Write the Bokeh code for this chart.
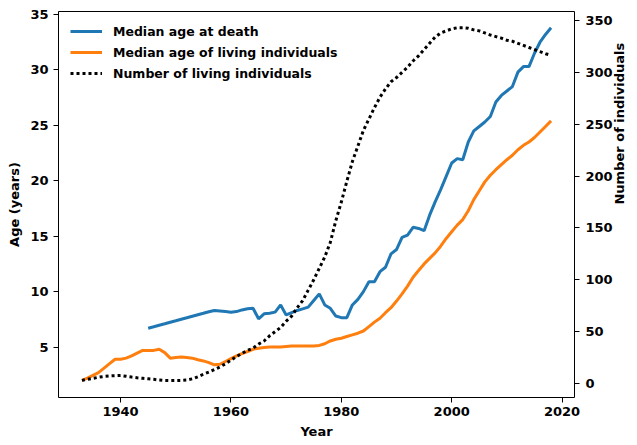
import math
from bokeh.plotting import figure
from bokeh.models import Range1d, LinearAxis, FixedTicker, Legend, LegendItem
from bokeh.embed import file_html
from bokeh.resources import INLINE

years_death = list(range(1945, 2019))
median_age_death = [
    6.7, 6.83, 6.97, 7.1, 7.24, 7.37, 7.51, 7.64, 7.78, 7.92,
    8.05, 8.19, 8.3, 8.25, 8.2, 8.15, 8.2, 8.35, 8.45, 8.5,
    7.55, 8.0, 8.05, 8.15, 8.8, 7.9, 8.1, 8.3, 8.45, 8.6,
    9.2, 9.8, 8.8, 8.5, 7.8, 7.65, 7.65, 8.8, 9.3, 10.0,
    10.9, 10.9, 11.8, 12.2, 13.4, 13.8, 14.9, 15.1, 15.8, 15.7,
    15.5, 16.9, 18.1, 19.2, 20.4, 21.6, 22.0, 21.9, 23.5, 24.5,
    24.9, 25.3, 25.8, 27.1, 27.7, 28.1, 28.5, 29.8, 30.3, 30.3,
    31.5, 32.5, 33.2, 33.8,
]

years_living = list(range(1933, 2019))
median_age_living = [
    2.0, 2.2, 2.45, 2.7, 3.1, 3.5, 3.9, 3.9, 4.0, 4.2,
    4.45, 4.7, 4.7, 4.7, 4.8, 4.5, 4.0, 4.05, 4.1, 4.05,
    4.0, 3.85, 3.75, 3.6, 3.4, 3.45, 3.7, 3.95, 4.2, 4.4,
    4.6, 4.8, 4.9, 4.95, 5.0, 5.0, 5.0, 5.05, 5.1, 5.1,
    5.1, 5.1, 5.1, 5.15, 5.3, 5.55, 5.7, 5.8, 5.95, 6.1,
    6.25, 6.45, 6.85, 7.25, 7.6, 8.1, 8.55, 9.15, 9.8, 10.5,
    11.3, 11.9, 12.5, 13.0, 13.5, 14.1, 14.8, 15.4, 16.0, 16.5,
    17.3, 18.3, 19.1, 19.9, 20.5, 21.0, 21.45, 21.9, 22.3, 22.8,
    23.2, 23.5, 23.9, 24.4, 24.9, 25.4,
]
number_living = [
    3, 4, 5, 6, 6.8, 7.3, 7.6, 7.7, 7, 6.2,
    5.5, 5, 4.5, 4, 3.4, 3, 2.9, 2.9, 3, 3.3,
    4.5, 6.5, 9, 11, 13.5, 16, 19, 22.5, 26, 29,
    32, 34, 38, 41, 46, 50, 54, 60, 65, 73,
    80, 90, 100, 111, 122, 136, 157, 175, 195, 214,
    229, 244, 255, 266, 276, 284, 291, 295, 300, 305,
    311, 316, 322, 328, 334, 338, 340, 342, 343, 343,
    342.5, 341, 340, 338, 336, 334.5, 333, 331, 330, 328,
    326, 324, 322, 320, 318, 316.5,
]

x_ticks = [1940, 1960, 1980, 2000, 2020]
age_ticks = [5, 10, 15, 20, 25, 30, 35]
count_ticks = [0, 50, 100, 150, 200, 250, 300, 350]

FONT = "DejaVu Sans"

p = figure(width=637, height=445, output_backend="svg", toolbar_location=None,
           x_range=Range1d(1928.75, 2022.25), y_range=Range1d(0.45, 35.27),
           min_border_left=58, min_border_right=62, min_border_top=11, min_border_bottom=48)
p.extra_y_ranges = {"count": Range1d(-13.5, 358.7)}

p.grid.visible = False
p.outline_line_color = "black"
p.outline_line_width = 1
p.background_fill_color = "white"
p.border_fill_color = "white"

r_death = p.line(years_death, median_age_death, line_color="#1f77b4", line_width=3)
r_living = p.line(years_living, median_age_living, line_color="#ff7f0e", line_width=3)
r_count = p.line(years_living, number_living, line_color="black", line_width=3,
                 line_dash="3 3", y_range_name="count")

right_axis = LinearAxis(y_range_name="count")
p.add_layout(right_axis, "right")

p.xaxis.ticker = FixedTicker(ticks=x_ticks)
p.yaxis[0].ticker = FixedTicker(ticks=age_ticks)
right_axis.ticker = FixedTicker(ticks=count_ticks)

p.xaxis.axis_label = "Year"
p.yaxis[0].axis_label = "Age (years)"
right_axis.axis_label = "Number of individuals"
right_axis.axis_label_orientation = math.pi / 2

for ax in [p.xaxis[0], p.yaxis[0], right_axis]:
    ax.major_label_text_font = FONT
    ax.major_label_text_font_style = "bold"
    ax.major_label_text_font_size = "13px"
    ax.major_label_text_color = "black"
    ax.axis_label_text_font = FONT
    ax.axis_label_text_font_style = "bold"
    ax.axis_label_text_font_size = "13px"
    ax.axis_label_text_color = "black"
    ax.major_tick_out = 5
    ax.major_tick_in = 0
    ax.minor_tick_out = 0
    ax.minor_tick_in = 0
    ax.axis_line_color = None
    ax.major_tick_line_color = "black"

p.xaxis[0].major_label_standoff = 4
p.xaxis[0].axis_label_standoff = 5
p.yaxis[0].major_label_standoff = 5
p.yaxis[0].axis_label_standoff = 5
right_axis.major_label_standoff = 6
right_axis.axis_label_standoff = 4

legend = Legend(items=[
    LegendItem(label="Median age at death", renderers=[r_death]),
    LegendItem(label="Median age of living individuals", renderers=[r_living]),
    LegendItem(label="Number of living individuals", renderers=[r_count]),
], location="top_left")
legend.label_text_font = FONT
legend.label_text_font_style = "bold"
legend.label_text_font_size = "12.5px"
legend.label_text_color = "black"
legend.border_line_alpha = 0
legend.background_fill_alpha = 0
legend.margin = 0
legend.padding = 12
legend.glyph_width = 32
legend.glyph_height = 16
legend.label_height = 16
legend.label_standoff = 11
legend.spacing = 5
p.add_layout(legend)

open("out.html", "w").write(file_html(p, INLINE))
